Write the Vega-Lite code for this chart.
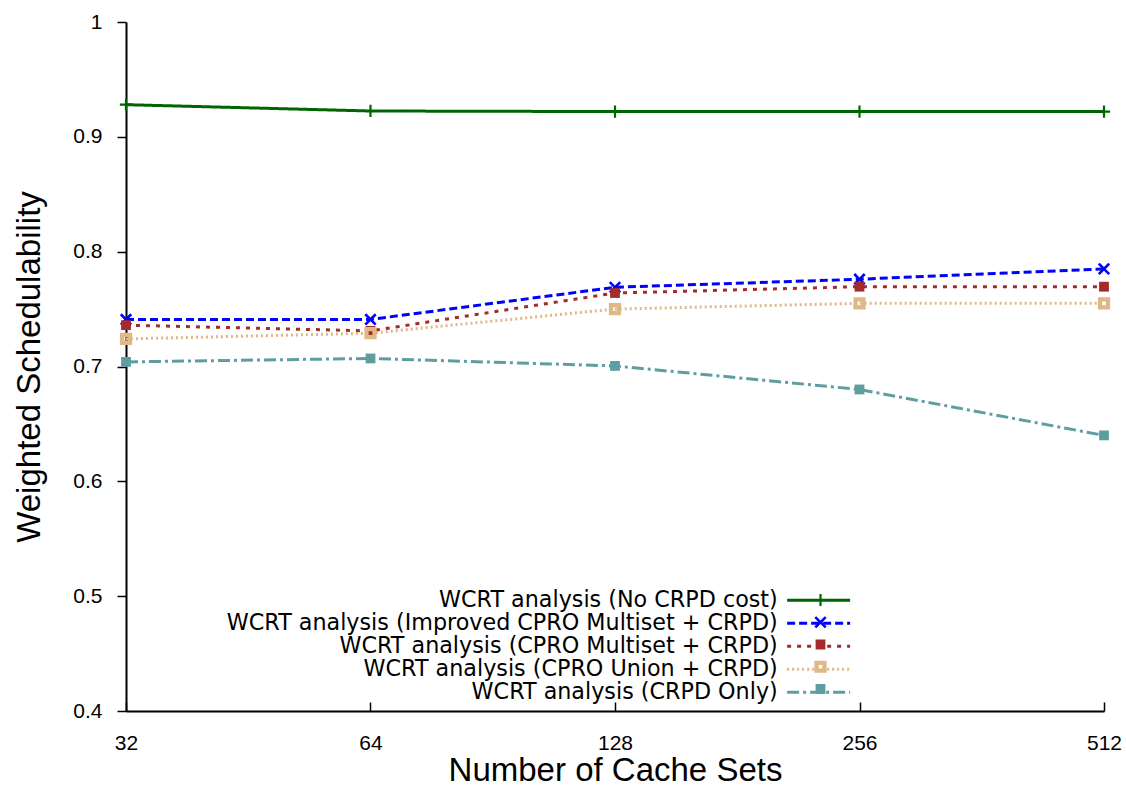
{
  "$schema": "https://vega.github.io/schema/vega-lite/v6.json",
  "width": 978,
  "height": 689,
  "autosize": {"type": "none"},
  "padding": {"left": 126, "top": 22, "right": 22, "bottom": 76},
  "background": "white",
  "config": {
    "view": {"stroke": null},
    "font": "Liberation Sans",
    "axis": {
      "grid": false,
      "domainColor": "black",
      "domainWidth": 2,
      "tickColor": "black",
      "tickWidth": 1.5,
      "labelColor": "black",
      "titleColor": "black",
      "labelFont": "Liberation Sans",
      "titleFont": "Liberation Sans",
      "titleFontWeight": "normal",
      "labelFontSize": 21,
      "titleFontSize": 33
    },
    "legend": {"padding": 0, "labelColor": "black"}
  },
  "data": {
    "values": [
      {"series": "WCRT analysis (No CRPD cost)", "ord": 1, "sets": 32, "ws": 0.928},
      {"series": "WCRT analysis (No CRPD cost)", "ord": 1, "sets": 64, "ws": 0.9225},
      {"series": "WCRT analysis (No CRPD cost)", "ord": 1, "sets": 128, "ws": 0.922},
      {"series": "WCRT analysis (No CRPD cost)", "ord": 1, "sets": 256, "ws": 0.922},
      {"series": "WCRT analysis (No CRPD cost)", "ord": 1, "sets": 512, "ws": 0.922},
      {"series": "WCRT analysis (Improved CPRO Multiset + CRPD)", "ord": 2, "sets": 32, "ws": 0.741},
      {"series": "WCRT analysis (Improved CPRO Multiset + CRPD)", "ord": 2, "sets": 64, "ws": 0.741},
      {"series": "WCRT analysis (Improved CPRO Multiset + CRPD)", "ord": 2, "sets": 128, "ws": 0.769},
      {"series": "WCRT analysis (Improved CPRO Multiset + CRPD)", "ord": 2, "sets": 256, "ws": 0.776},
      {"series": "WCRT analysis (Improved CPRO Multiset + CRPD)", "ord": 2, "sets": 512, "ws": 0.785},
      {"series": "WCRT analysis (CPRO Multiset + CRPD)", "ord": 3, "sets": 32, "ws": 0.736},
      {"series": "WCRT analysis (CPRO Multiset + CRPD)", "ord": 3, "sets": 64, "ws": 0.731},
      {"series": "WCRT analysis (CPRO Multiset + CRPD)", "ord": 3, "sets": 128, "ws": 0.764},
      {"series": "WCRT analysis (CPRO Multiset + CRPD)", "ord": 3, "sets": 256, "ws": 0.7695},
      {"series": "WCRT analysis (CPRO Multiset + CRPD)", "ord": 3, "sets": 512, "ws": 0.7695},
      {"series": "WCRT analysis (CPRO Union + CRPD)", "ord": 4, "sets": 32, "ws": 0.724},
      {"series": "WCRT analysis (CPRO Union + CRPD)", "ord": 4, "sets": 64, "ws": 0.729},
      {"series": "WCRT analysis (CPRO Union + CRPD)", "ord": 4, "sets": 128, "ws": 0.750},
      {"series": "WCRT analysis (CPRO Union + CRPD)", "ord": 4, "sets": 256, "ws": 0.755},
      {"series": "WCRT analysis (CPRO Union + CRPD)", "ord": 4, "sets": 512, "ws": 0.755},
      {"series": "WCRT analysis (CRPD Only)", "ord": 5, "sets": 32, "ws": 0.704},
      {"series": "WCRT analysis (CRPD Only)", "ord": 5, "sets": 64, "ws": 0.707},
      {"series": "WCRT analysis (CRPD Only)", "ord": 5, "sets": 128, "ws": 0.7005},
      {"series": "WCRT analysis (CRPD Only)", "ord": 5, "sets": 256, "ws": 0.680},
      {"series": "WCRT analysis (CRPD Only)", "ord": 5, "sets": 512, "ws": 0.640}
    ]
  },
  "encoding": {
    "x": {
      "field": "sets",
      "type": "quantitative",
      "scale": {"type": "log", "base": 2, "domain": [32, 512]},
      "axis": {
        "title": "Number of Cache Sets",
        "values": [32, 64, 128, 256, 512],
        "format": "d",
        "tickSize": -9,
        "labelPadding": 30,
        "titlePadding": 1,
        "labelFlush": false
      }
    },
    "y": {
      "field": "ws",
      "type": "quantitative",
      "scale": {"domain": [0.4, 1]},
      "axis": {
        "title": "Weighted Schedulability",
        "values": [0.4, 0.5, 0.6, 0.7, 0.8, 0.9, 1],
        "format": "~g",
        "tickSize": 9,
        "labelPadding": 15,
        "titlePadding": 26,
        "labelFlush": false
      }
    }
  },
  "layer": [
    {
      "mark": {"type": "line", "strokeWidth": 3},
      "encoding": {
        "color": {
          "field": "series",
          "type": "nominal",
          "sort": {"field": "ord", "op": "min"},
          "scale": {"range": ["#006400", "#0000ff", "#a52a2a", "#deb887", "#5f9ea0"]},
          "legend": {
            "title": null,
            "orient": "none",
            "legendX": 681.5,
            "legendY": 567,
            "symbolType": "M-6.3,0L6.3,0",
            "symbolSize": 100,
            "symbolStrokeWidth": 3,
            "labelAlign": "right",
            "labelOffset": -52,
            "labelFont": "DejaVu Sans",
            "labelFontSize": 22.25,
            "labelLimit": 800,
            "rowPadding": 0
          }
        },
        "strokeDash": {
          "field": "series",
          "type": "nominal",
          "sort": {"field": "ord", "op": "min"},
          "scale": {"range": [[1, 0], [8, 4], [4, 6], [2, 3], [12, 4, 3, 4]]},
          "legend": {
            "title": null,
            "orient": "none",
            "legendX": 681.5,
            "legendY": 567,
            "symbolType": "M-6.3,0L6.3,0",
            "symbolSize": 100,
            "symbolStrokeWidth": 3,
            "labelAlign": "right",
            "labelOffset": -52,
            "labelFont": "DejaVu Sans",
            "labelFontSize": 22.25,
            "labelLimit": 800,
            "rowPadding": 0
          }
        }
      }
    },
    {
      "mark": {"type": "point", "filled": true, "opacity": 1, "size": 150},
      "encoding": {
        "fill": {
          "field": "series",
          "type": "nominal",
          "scale": {
            "domain": [
              "WCRT analysis (No CRPD cost)",
              "WCRT analysis (Improved CPRO Multiset + CRPD)",
              "WCRT analysis (CPRO Multiset + CRPD)",
              "WCRT analysis (CPRO Union + CRPD)",
              "WCRT analysis (CRPD Only)"
            ],
            "range": ["#006400", "#0000ff", "#a52a2a", "#deb887", "#5f9ea0"]
          },
          "legend": {
            "title": null,
            "orient": "none",
            "legendX": 684.5,
            "legendY": 567,
            "symbolSize": 150,
            "labelExpr": "''",
            "labelFontSize": 20,
            "clipHeight": 22,
            "rowPadding": 0.25,
            "symbolStrokeWidth": 0,
            "symbolOpacity": 1
          }
        },
        "shape": {
          "field": "series",
          "type": "nominal",
          "scale": {
            "domain": [
              "WCRT analysis (No CRPD cost)",
              "WCRT analysis (Improved CPRO Multiset + CRPD)",
              "WCRT analysis (CPRO Multiset + CRPD)",
              "WCRT analysis (CPRO Union + CRPD)",
              "WCRT analysis (CRPD Only)"
            ],
            "range": [
              "M-0.18,-1L0.18,-1L0.18,-0.18L1,-0.18L1,0.18L0.18,0.18L0.18,1L-0.18,1L-0.18,0.18L-1,0.18L-1,-0.18L-0.18,-0.18Z",
              "M-0.7,-1L0,-0.3L0.7,-1L1,-0.7L0.3,0L1,0.7L0.7,1L0,0.3L-0.7,1L-1,0.7L-0.3,0L-1,-0.7Z",
              "M-0.8,-0.8L0.8,-0.8L0.8,0.8L-0.8,0.8Z",
              "M-1,-1L1,-1L1,1L-1,1ZM-0.3,-0.3L-0.3,0.3L0.3,0.3L0.3,-0.3Z",
              "M-0.8,-0.8L0.8,-0.8L0.8,0.8L-0.8,0.8Z"
            ]
          },
          "legend": {
            "title": null,
            "orient": "none",
            "legendX": 684.5,
            "legendY": 567,
            "symbolSize": 150,
            "labelExpr": "''",
            "labelFontSize": 20,
            "clipHeight": 22,
            "rowPadding": 0.25,
            "symbolStrokeWidth": 0,
            "symbolOpacity": 1
          }
        }
      }
    }
  ]
}
